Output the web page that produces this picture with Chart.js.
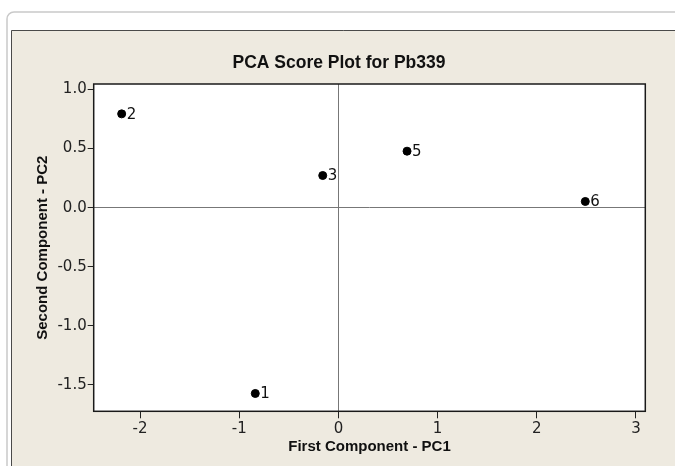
<!DOCTYPE html>
<html><head><meta charset="utf-8">
<script src="https://cdn.jsdelivr.net/npm/chart.js@4"></script>
<style>html,body{margin:0;padding:0;background:#fff;overflow:hidden}canvas{display:block}</style>
</head><body>
<canvas id="c" width="675" height="466"></canvas>
<script>
// ---- data ----
const pointLabels = ['1', '2', '3', '5', '6'];
const pc1 = [-0.838, -2.185, -0.158, 0.692, 2.489];
const pc2 = [-1.574, 0.794, 0.272, 0.478, 0.052];
const xTicks = [-2, -1, 0, 1, 2, 3];
const yTicks = [1.0, 0.5, 0.0, -0.5, -1.0, -1.5];
const xRange = [-2.467, 3.094];
const yRange = [-1.725, 1.047];
const titleText = 'PCA Score Plot for Pb339';
const xTitle = 'First Component - PC1';
const yTitle = 'Second Component - PC2';

const FONT = "'Liberation Sans', Arial, sans-serif";
const TICKFONT = "'DejaVu Sans', Verdana, sans-serif";
const BEIGE = '#EEEAE0';

const points = pc1.map((x, i) => ({x: x, y: pc2[i]}));

const framePlugin = {
  id: 'frame',
  beforeDraw(chart) {
    const ctx = chart.ctx;
    const W = chart.width, H = chart.height;
    ctx.save();
    ctx.fillStyle = '#fff';
    ctx.fillRect(0, 0, W, H);
    // outer rounded border
    ctx.strokeStyle = '#c9c9c9';
    ctx.lineWidth = 1.5;
    ctx.beginPath();
    ctx.moveTo(7, H + 10);
    ctx.lineTo(7, 19);
    ctx.arcTo(7, 12, 14, 12, 7);
    ctx.lineTo(W + 10, 12);
    ctx.stroke();
    // beige panel
    ctx.fillStyle = BEIGE;
    ctx.fillRect(11, 30, W, H);
    ctx.strokeStyle = '#4a4a4a';
    ctx.lineWidth = 1;
    ctx.beginPath();
    ctx.moveTo(11.5, H + 5);
    ctx.lineTo(11.5, 30.5);
    ctx.lineTo(W + 5, 30.5);
    ctx.stroke();
    // plot area
    const a = chart.chartArea;
    ctx.fillStyle = '#fff';
    ctx.fillRect(a.left, a.top, a.right - a.left, a.bottom - a.top);
    // chart title
    ctx.fillStyle = '#111';
    ctx.font = "bold 17.5px " + FONT;
    ctx.textAlign = 'center';
    ctx.textBaseline = 'middle';
    ctx.fillText(titleText, 339, 63);
    ctx.restore();
  },
  afterDatasetsDraw(chart) {
    const ctx = chart.ctx;
    const a = chart.chartArea;
    const xs = chart.scales.x, ys = chart.scales.y;
    ctx.save();
    ctx.strokeStyle = '#1a1a1a';
    ctx.lineWidth = 1.5;
    ctx.strokeRect(a.left, a.top, a.right - a.left, a.bottom - a.top);
    ctx.fillStyle = '#111';
    ctx.font = "15px " + TICKFONT;
    ctx.textAlign = 'left';
    ctx.textBaseline = 'middle';
    points.forEach((p, i) => {
      ctx.fillText(pointLabels[i], xs.getPixelForValue(p.x) + 5, ys.getPixelForValue(p.y) + 1);
    });
    ctx.restore();
  }
};

new Chart(document.getElementById('c'), {
  type: 'scatter',
  data: {
    datasets: [{
      data: points,
      backgroundColor: '#000',
      borderColor: '#000',
      pointRadius: 4,
      pointHoverRadius: 4
    }]
  },
  plugins: [framePlugin],
  options: {
    responsive: false,
    animation: false,
    devicePixelRatio: 1,
    layout: {padding: {top: 84, left: 0, right: 29.7, bottom: 0}},
    plugins: {
      legend: {display: false},
      tooltip: {enabled: false},
      title: {display: false}
    },
    scales: {
      x: {
        type: 'linear',
        min: xRange[0], max: xRange[1],
        afterBuildTicks: s => { s.ticks = xTicks.map(v => ({value: v})); },
        afterFit: s => { s.height = 54.7; },
        border: {display: false},
        grid: {
          drawOnChartArea: true,
          color: c => (c.tick && c.tick.value === 0) ? '#777' : 'rgba(0,0,0,0)',
          lineWidth: 1,
          tickColor: '#222',
          tickLength: 7
        },
        ticks: {
          color: '#222',
          padding: 2,
          maxRotation: 0,
          font: {family: TICKFONT, size: 15},
          callback: v => String(v)
        },
        title: {
          display: true,
          text: xTitle,
          color: '#111',
          font: {family: FONT, size: 15, weight: 'bold', lineHeight: 1.2},
          padding: {top: 0, bottom: 10}
        }
      },
      y: {
        type: 'linear',
        min: yRange[0], max: yRange[1],
        afterBuildTicks: s => { s.ticks = yTicks.map(v => ({value: v})); },
        afterFit: s => { s.width = 93.7; },
        border: {display: false},
        grid: {
          drawOnChartArea: true,
          color: c => (c.tick && c.tick.value === 0) ? '#777' : 'rgba(0,0,0,0)',
          lineWidth: 1,
          tickColor: '#222',
          tickLength: 6
        },
        ticks: {
          color: '#222',
          padding: 1,
          font: {family: TICKFONT, size: 15},
          callback: v => Number(v).toFixed(1)
        },
        title: {
          display: true,
          text: yTitle,
          color: '#111',
          font: {family: FONT, size: 15, weight: 'bold', lineHeight: 1.2},
          padding: {top: 34.3, bottom: 0}
        }
      }
    }
  }
});
</script>
</body></html>
